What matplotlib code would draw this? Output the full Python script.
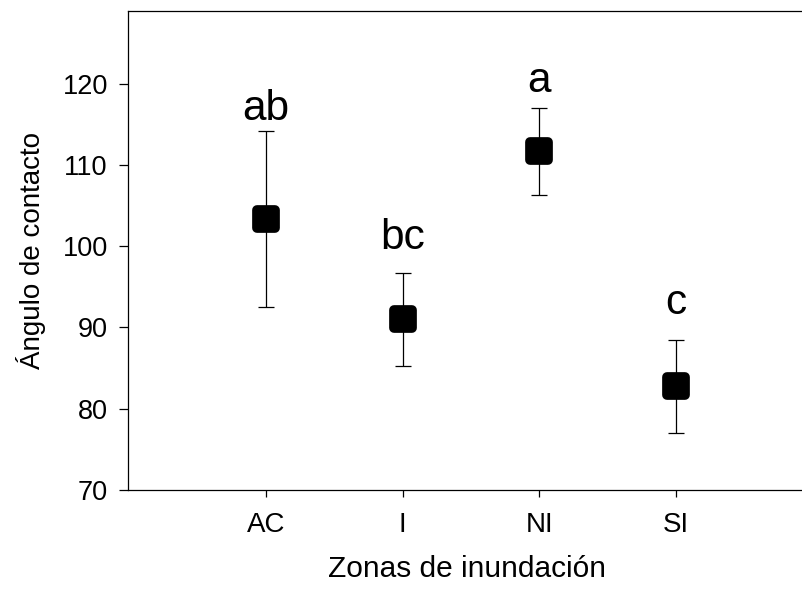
import matplotlib
matplotlib.use("Agg")
import matplotlib.pyplot as plt
from matplotlib.markers import MarkerStyle

plt.rcParams['font.family'] = ['Liberation Sans', 'DejaVu Sans']

zones = ["AC", "I", "NI", "SI"]
means = [103.3, 91.0, 111.7, 82.8]
err_upper = [114.2, 96.7, 117.0, 88.4]
err_lower = [92.5, 85.3, 106.3, 77.0]
groups = ["ab", "bc", "a", "c"]
group_y = [115.5, 99.6, 118.9, 91.7]

x = list(range(1, len(zones) + 1))
yerr = [[m - lo for m, lo in zip(means, err_lower)],
        [hi - m for m, hi in zip(means, err_upper)]]

fig = plt.figure(figsize=(8.03, 5.89), dpi=100)
ax = fig.add_axes([0.1594, 0.168, 0.8443, 0.813])

ax.errorbar(x, means, yerr=yerr, fmt='none', ecolor='black',
            elinewidth=0.9, capsize=6, capthick=0.9, zorder=2)
ax.plot(x, means, linestyle='none',
        marker=MarkerStyle('s', joinstyle='round'), markersize=13,
        markerfacecolor='black', markeredgecolor='black',
        markeredgewidth=7, zorder=3)

for xi, g, gy in zip(x, groups, group_y):
    ax.text(xi, gy, g, ha='center', va='baseline', fontsize=30.5)

ax.set_xlim(-0.01, 4.95)
ax.set_ylim(70, 128.9)
ax.set_xticks(x)
ax.set_xticklabels(zones)
ax.set_yticks([70, 80, 90, 100, 110, 120])

for s in ax.spines.values():
    s.set_linewidth(0.9)
ax.spines['right'].set_visible(False)

ax.tick_params(axis='y', direction='out', length=6.5, width=0.9,
               labelsize=19.5, pad=8)
ax.tick_params(axis='x', direction='out', length=5, width=0.9,
               labelsize=20, pad=11)

ax.set_xlabel("Zonas de inundación", fontsize=21.5, labelpad=12)
ax.set_ylabel("Ángulo de contacto", fontsize=20, labelpad=12)

fig.savefig("out.png", dpi=100)
